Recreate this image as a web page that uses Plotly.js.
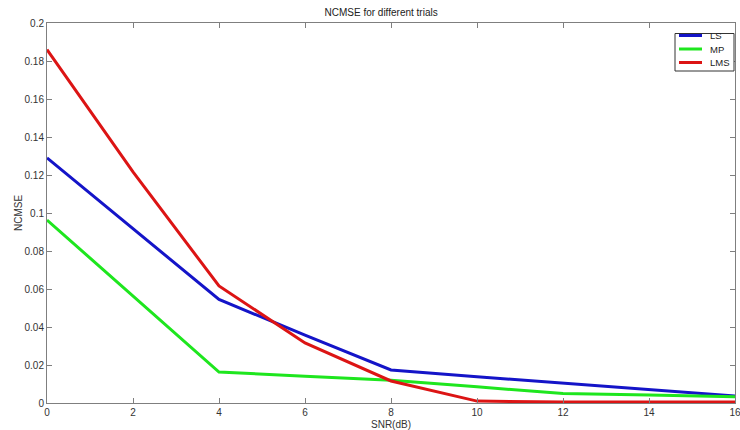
<!DOCTYPE html>
<html>
<head>
<meta charset="utf-8">
<script src="https://cdn.plot.ly/plotly-3.0.1.min.js"></script>
<style>html,body{margin:0;padding:0;background:#fff;}#chart{width:740px;height:430px;}</style>
</head>
<body>
<div id="chart"></div>
<script>
const snr = [0, 2, 4, 6, 8, 10, 12, 14, 16];
const lsValues = [0.129, 0.0916, 0.0545, 0.0357, 0.0174, 0.0138, 0.0104, 0.0070, 0.0037];
const mpValues = [0.0963, 0.0563, 0.0163, 0.0141, 0.0120, 0.0085, 0.0050, 0.0042, 0.0033];
const lmsValues = [0.186, 0.1216, 0.0616, 0.0316, 0.0116, 0.0010, 0.0005, 0.0005, 0.0005];
const seriesNames = ['LS', 'MP', 'LMS'];
const xTicks = [0, 2, 4, 6, 8, 10, 12, 14, 16];
const yTicks = [0, 0.02, 0.04, 0.06, 0.08, 0.1, 0.12, 0.14, 0.16, 0.18, 0.2];
const yTickText = ['0', '0.02', '0.04', '0.06', '0.08', '0.1', '0.12', '0.14', '0.16', '0.18', '0.2'];

const colors = ['#1414c8', '#1ee61e', '#dc1414'];
const FONT = 'Liberation Sans, Arial, sans-serif';
const data = [lsValues, mpValues, lmsValues].map((v, i) => ({
  x: snr, y: v, name: seriesNames[i], type: 'scatter', mode: 'lines',
  line: {color: colors[i], width: 3}
}));

// custom MATLAB-style legend in paper coordinates
const L = 47, R = 5, T = 23, B = 27;
const W = 740 - L - R, H = 430 - T - B;
const right = 740 - R;
const px = x => (x - L) / W;
const py = y => 1 - (y - T) / H;
const shapes = [{type: 'rect', xref: 'paper', yref: 'paper', x0: px(right - 60), x1: px(right - 1), y0: py(71), y1: py(33.5),
  line: {color: '#333', width: 1}, fillcolor: '#fff', layer: 'above'}];
const annotations = [];
const itemY = [35.5, 49, 62.5];
seriesNames.forEach((n, i) => {
  shapes.push({type: 'line', xref: 'paper', yref: 'paper', x0: px(right - 56), x1: px(right - 33), y0: py(itemY[i]), y1: py(itemY[i]),
    line: {color: colors[i], width: 3}, layer: 'above'});
  annotations.push({xref: 'paper', yref: 'paper', x: px(right - 26), y: py(itemY[i]), xanchor: 'left', yanchor: 'middle',
    text: n, showarrow: false, borderpad: 0, font: {family: FONT, size: 9.5, color: '#222'}});
});

const axisCommon = {
  showgrid: false, zeroline: false, showline: true, linecolor: '#7f7f7f', linewidth: 1,
  ticks: 'inside', ticklen: 5, tickcolor: '#7f7f7f', mirror: 'allticks',
  tickfont: {family: FONT, size: 10, color: '#333'}, ticklabeloverflow: 'allow'
};

const layout = {
  width: 740, height: 430,
  margin: {l: L, r: R, t: T, b: B},
  paper_bgcolor: '#fff', plot_bgcolor: '#fff',
  title: {text: 'NCMSE for different trials', x: 0.515, xanchor: 'center', y: 0.972, yanchor: 'middle',
          font: {family: FONT, size: 10, color: '#222'}},
  xaxis: Object.assign({}, axisCommon, {
    range: [0, 16], tickvals: xTicks, ticktext: xTicks.map(String),
    title: {text: 'SNR(dB)', standoff: 4, font: {family: FONT, size: 10, color: '#333'}}
  }),
  yaxis: Object.assign({}, axisCommon, {
    range: [0, 0.2], tickvals: yTicks, ticktext: yTickText,
    title: {text: 'NCMSE', standoff: 0, font: {family: FONT, size: 10, color: '#333'}}
  }),
  showlegend: false,
  shapes: shapes,
  annotations: annotations
};

Plotly.newPlot('chart', data, layout, {displayModeBar: false, staticPlot: true});
</script>
</body>
</html>
